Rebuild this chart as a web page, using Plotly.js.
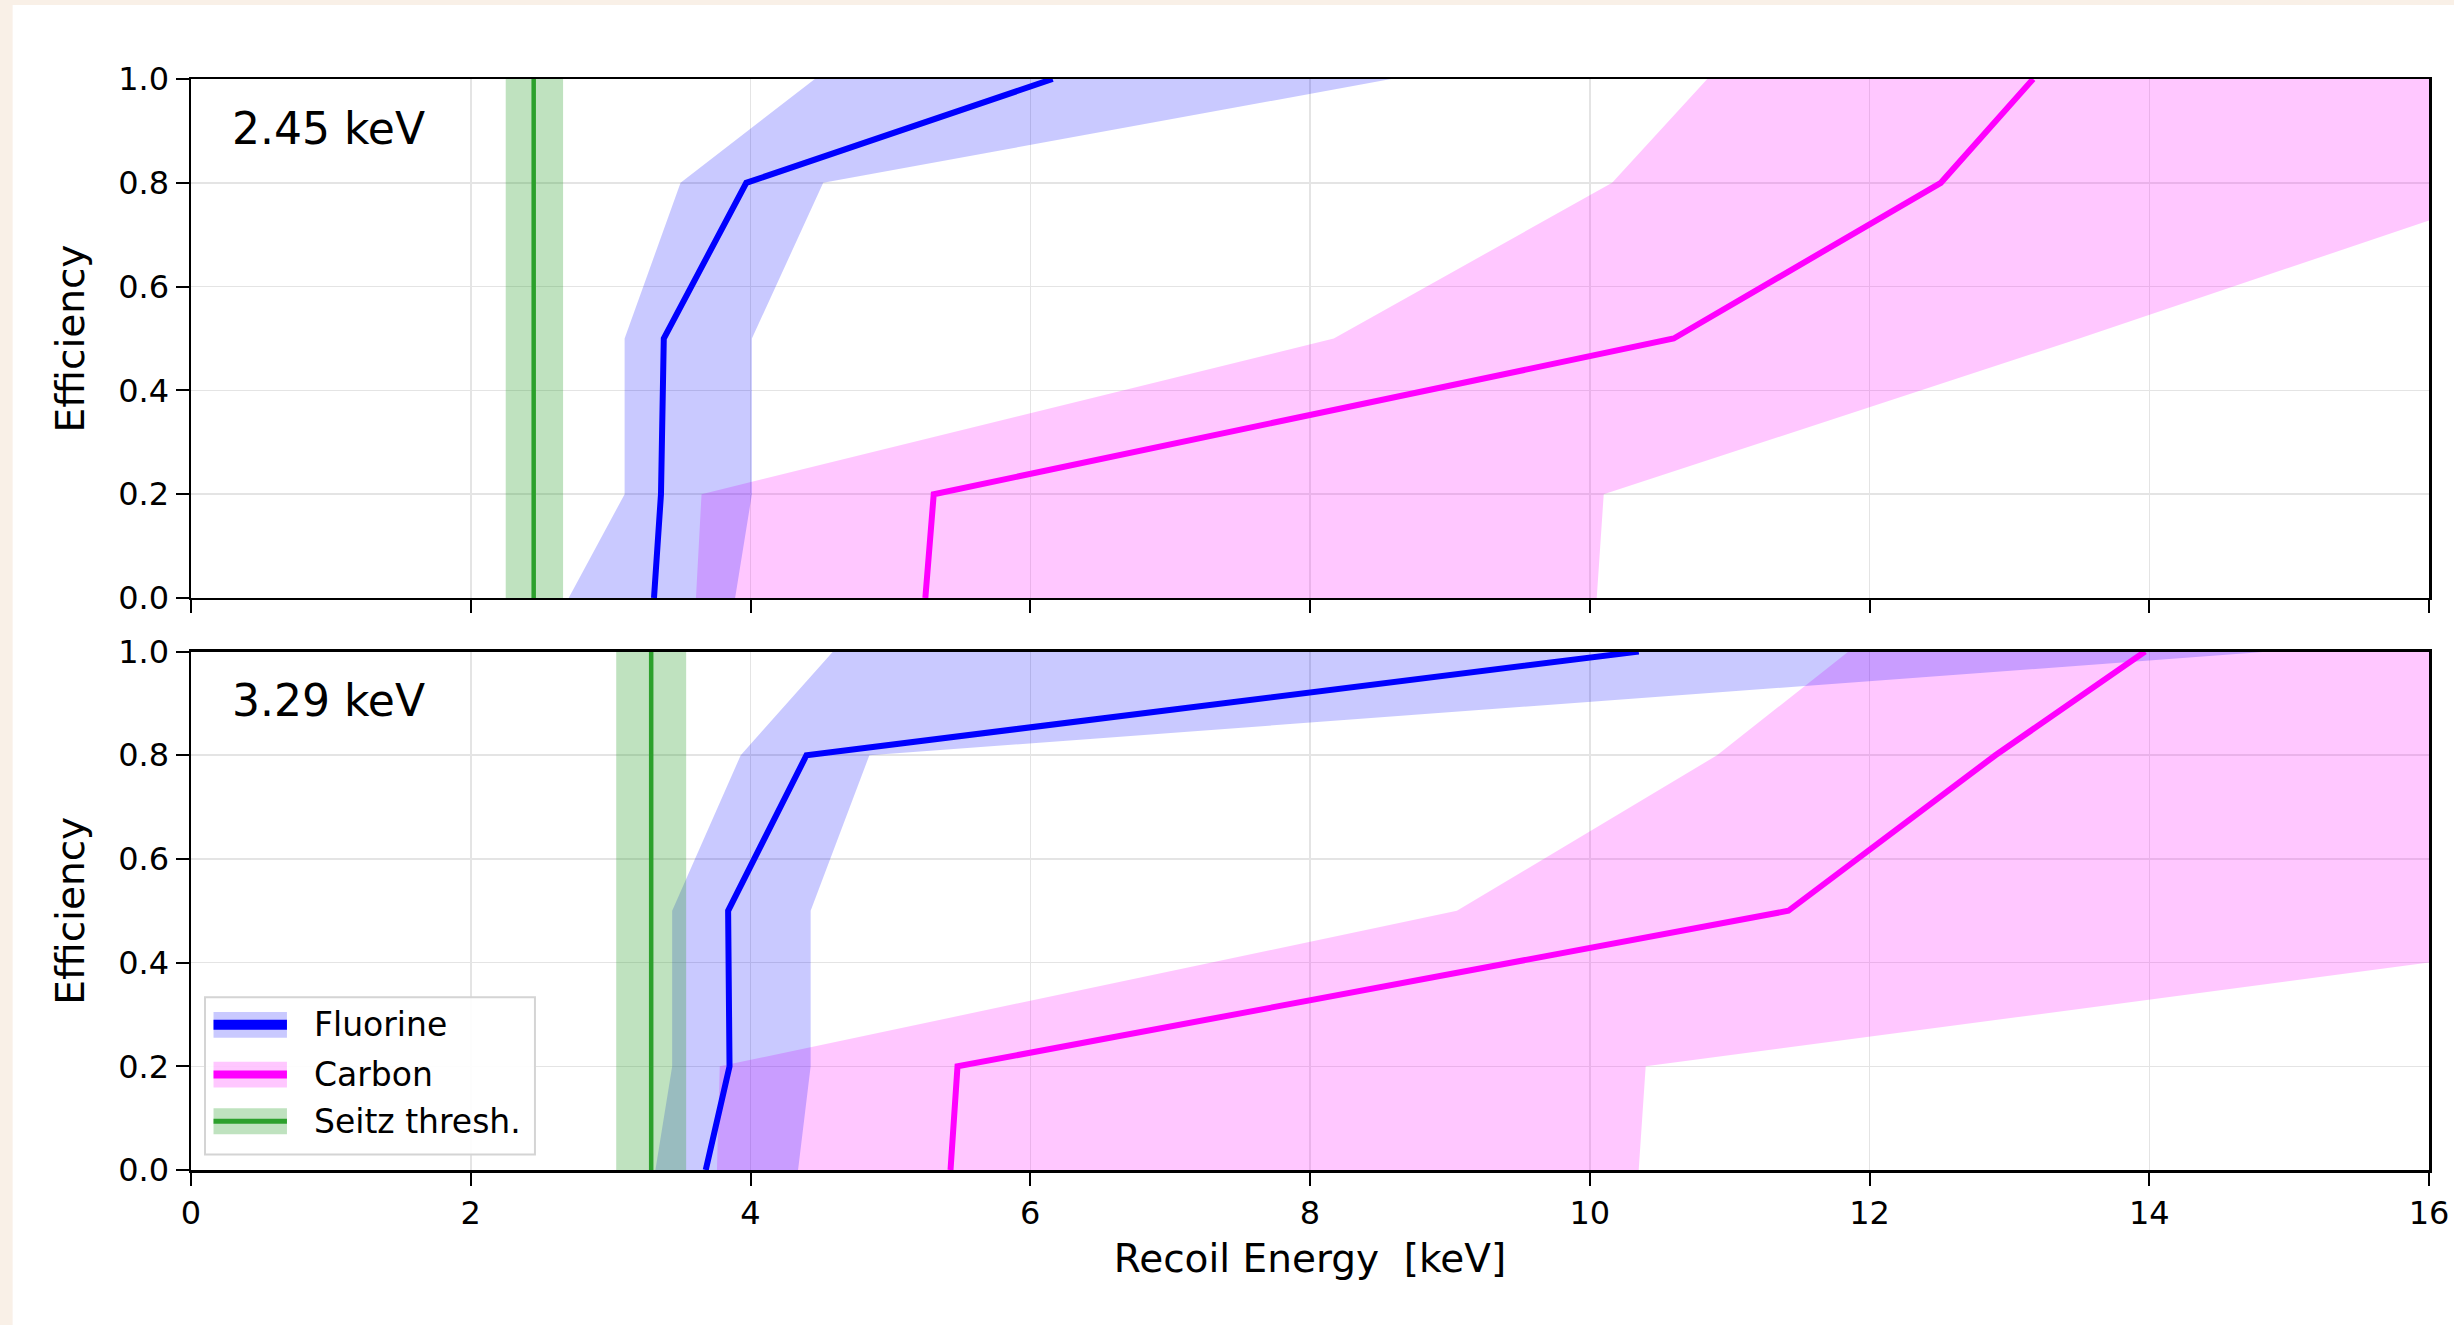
<!DOCTYPE html>
<html>
<head>
<meta charset="utf-8">
<script src="https://cdn.plot.ly/plotly-3.0.1.min.js"></script>
<style>
  html, body { margin: 0; padding: 0; background: #f9f0e7; }
  #chart { width: 2454px; height: 1325px; }
</style>
</head>
<body>
<div id="chart"></div>
<script>
// ---- data ----
const effLevels = [0, 0.2, 0.5, 0.8, 1.0];

const panelLabels = ["2.45 keV", "3.29 keV"];
const seitzE  = [2.45, 3.29];
const seitzLo = [2.25, 3.04];
const seitzHi = [2.66, 3.54];

// top panel (2.45 keV)
const fluorineTopMid = [3.31, 3.36, 3.38, 3.97, 6.16];
const fluorineTopLo  = [2.70, 3.10, 3.10, 3.50, 4.46];
const fluorineTopHi  = [3.89, 4.01, 4.01, 4.52, 8.58];
const carbonTopMid   = [5.25, 5.31, 10.60, 12.51, 13.17];
const carbonTopLo    = [3.61, 3.65, 8.17, 10.16, 10.84];
const carbonTopHi    = [10.05, 10.10, 13.5, 16.8, 19.1];

// bottom panel (3.29 keV)
const fluorineBotMid = [3.68, 3.85, 3.84, 4.40, 10.35];
const fluorineBotLo  = [3.32, 3.44, 3.44, 3.93, 4.59];
const fluorineBotHi  = [4.34, 4.43, 4.43, 4.85, 14.86];
const carbonBotMid   = [5.43, 5.48, 11.42, 12.90, 13.97];
const carbonBotLo    = [3.76, 3.78, 9.05, 10.91, 11.85];
const carbonBotHi    = [10.35, 10.40, 18.8, 27.1, 32.7];

const legendNames = ["Fluorine", "Carbon", "Seitz thresh."];

// ---- styles ----
const FONT = "DejaVu Sans, Liberation Sans, sans-serif";
const blueLine = "#0000ff", blueFill = "rgba(0,0,255,0.21)";
const pinkLine = "#ff00ff", pinkFill = "rgba(255,0,255,0.22)";
const greenLine = "#2ca02c", greenFill = "rgba(44,160,44,0.3)";

function band(lo, hi, levels, fill, xa, ya) {
  return {
    x: lo.concat(hi.slice().reverse()),
    y: levels.concat(levels.slice().reverse()),
    xaxis: xa, yaxis: ya,
    mode: "lines", fill: "toself", fillcolor: fill,
    line: { width: 0 }, hoverinfo: "skip", showlegend: false
  };
}
function curve(xs, levels, color, xa, ya) {
  return {
    x: xs, y: levels, xaxis: xa, yaxis: ya,
    mode: "lines", line: { color: color, width: 6 },
    hoverinfo: "skip", showlegend: false
  };
}
function seitzBand(i, xa, ya) {
  return {
    x: [seitzLo[i], seitzHi[i], seitzHi[i], seitzLo[i]],
    y: [effLevels[0], effLevels[0], effLevels[4], effLevels[4]],
    xaxis: xa, yaxis: ya, mode: "lines", fill: "toself",
    fillcolor: greenFill, line: { width: 0 }, hoverinfo: "skip", showlegend: false
  };
}
function seitzLine(i, xa, ya) {
  return {
    x: [seitzE[i], seitzE[i]], y: [effLevels[0], effLevels[4]],
    xaxis: xa, yaxis: ya, mode: "lines",
    line: { color: greenLine, width: 4.5 }, hoverinfo: "skip", showlegend: false
  };
}

const traces = [
  // top panel (x2, y2)
  band(carbonTopLo, carbonTopHi, effLevels, pinkFill, "x2", "y2"),
  band(fluorineTopLo, fluorineTopHi, effLevels, blueFill, "x2", "y2"),
  seitzBand(0, "x2", "y2"),
  curve(fluorineTopMid, effLevels, blueLine, "x2", "y2"),
  curve(carbonTopMid, effLevels, pinkLine, "x2", "y2"),
  seitzLine(0, "x2", "y2"),
  // bottom panel (x, y)
  band(carbonBotLo, carbonBotHi, effLevels, pinkFill, "x", "y"),
  band(fluorineBotLo, fluorineBotHi, effLevels, blueFill, "x", "y"),
  seitzBand(1, "x", "y"),
  curve(fluorineBotMid, effLevels, blueLine, "x", "y"),
  curve(carbonBotMid, effLevels, pinkLine, "x", "y"),
  seitzLine(1, "x", "y")
];

const axisCommon = {
  ticks: "outside", ticklen: 13, tickwidth: 2, tickcolor: "#000",
  showline: true, mirror: true, linecolor: "#000", linewidth: 2.5,
  showgrid: true, gridcolor: "#e4e4e4", gridwidth: 1.5, zeroline: false,
  tickfont: { family: FONT, size: 32, color: "#000" }
};

const layout = {
  width: 2454, height: 1325,
  paper_bgcolor: "#ffffff", plot_bgcolor: "#ffffff",
  margin: { l: 191, r: 25, t: 79, b: 155, pad: 0 },
  showlegend: false,
  font: { family: FONT, color: "#000" },
  xaxis: Object.assign({}, axisCommon, {
    domain: [0, 1], anchor: "y", range: [0, 16], dtick: 2, tick0: 0,
    title: { text: "Recoil Energy\u00a0\u00a0[keV]", font: { family: FONT, size: 39, color: "#000" }, standoff: 14 }
  }),
  xaxis2: Object.assign({}, axisCommon, {
    domain: [0, 1], anchor: "y2", range: [0, 16], dtick: 2, tick0: 0,
    matches: "x", showticklabels: false
  }),
  yaxis: Object.assign({}, axisCommon, {
    domain: [0, 0.4752], anchor: "x", range: [0, 1], dtick: 0.2, tick0: 0, tickformat: ".1f",
    title: { text: "Efficiency", font: { family: FONT, size: 39, color: "#000" }, standoff: 22 }
  }),
  yaxis2: Object.assign({}, axisCommon, {
    domain: [0.5243, 1], anchor: "x2", range: [0, 1], dtick: 0.2, tick0: 0, tickformat: ".1f",
    title: { text: "Efficiency", font: { family: FONT, size: 39, color: "#000" }, standoff: 22 }
  }),
  annotations: [
    { text: panelLabels[0], xref: "x2", yref: "y2", x: 0.28, y: 0.905, xanchor: "left", yanchor: "middle",
      showarrow: false, font: { family: FONT, size: 44, color: "#000" } },
    { text: panelLabels[1], xref: "x", yref: "y", x: 0.28, y: 0.905, xanchor: "left", yanchor: "middle",
      showarrow: false, font: { family: FONT, size: 44, color: "#000" } },
    { text: legendNames[0], xref: "x", yref: "y", x: 0.862, y: 0.280, xanchor: "left", yanchor: "middle",
      showarrow: false, font: { family: FONT, size: 33, color: "#000" } },
    { text: legendNames[1], xref: "x", yref: "y", x: 0.862, y: 0.184, xanchor: "left", yanchor: "middle",
      showarrow: false, font: { family: FONT, size: 33, color: "#000" } },
    { text: legendNames[2], xref: "x", yref: "y", x: 0.862, y: 0.094, xanchor: "left", yanchor: "middle",
      showarrow: false, font: { family: FONT, size: 33, color: "#000" } }
  ],
  shapes: [
    // cream frame strips (top and left) of the picture
    { type: "rect", xref: "paper", yref: "paper", x0: -0.09, x1: 1.02, y0: 1.0678, y1: 1.08,
      fillcolor: "#f9f0e7", line: { width: 0 }, layer: "below" },
    { type: "rect", xref: "paper", yref: "paper", x0: -0.09, x1: -0.0797, y0: -0.15, y1: 1.08,
      fillcolor: "#f9f0e7", line: { width: 0 }, layer: "below" },
    // legend frame
    { type: "rect", xref: "x", yref: "y", x0: 0.10, x1: 2.459, y0: 0.030, y1: 0.333,
      fillcolor: "rgba(255,255,255,0.9)", line: { color: "#d4d4d4", width: 2 }, layer: "above" },
    // legend handles
    { type: "rect", xref: "x", yref: "y", x0: 0.161, x1: 0.686, y0: 0.255, y1: 0.305,
      fillcolor: blueFill, line: { width: 0 }, layer: "above" },
    { type: "line", xref: "x", yref: "y", x0: 0.161, x1: 0.686, y0: 0.280, y1: 0.280,
      line: { color: blueLine, width: 10 }, layer: "above" },
    { type: "rect", xref: "x", yref: "y", x0: 0.161, x1: 0.686, y0: 0.159, y1: 0.209,
      fillcolor: pinkFill, line: { width: 0 }, layer: "above" },
    { type: "line", xref: "x", yref: "y", x0: 0.161, x1: 0.686, y0: 0.184, y1: 0.184,
      line: { color: pinkLine, width: 8 }, layer: "above" },
    { type: "rect", xref: "x", yref: "y", x0: 0.161, x1: 0.686, y0: 0.069, y1: 0.119,
      fillcolor: greenFill, line: { width: 0 }, layer: "above" },
    { type: "line", xref: "x", yref: "y", x0: 0.161, x1: 0.686, y0: 0.094, y1: 0.094,
      line: { color: greenLine, width: 5 }, layer: "above" }
  ]
};

Plotly.newPlot("chart", traces, layout, { displayModeBar: false, staticPlot: true });
</script>
</body>
</html>
